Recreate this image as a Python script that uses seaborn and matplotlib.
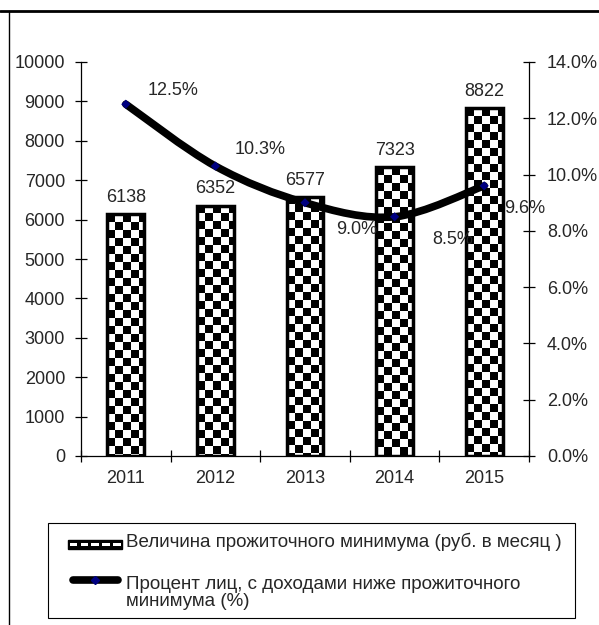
import numpy as np
import seaborn as sns
import matplotlib.pyplot as plt
from matplotlib.lines import Line2D
from matplotlib.patches import Rectangle, PathPatch
from matplotlib.path import Path
from matplotlib.legend_handler import HandlerBase
from matplotlib.ticker import FuncFormatter, MultipleLocator, FixedLocator

years = ['2011', '2012', '2013', '2014', '2015']
subsistence = [6138, 6352, 6577, 7323, 8822]
poor_share = [12.5, 10.3, 9.0, 8.5, 9.6]

bar_label_text = 'Величина прожиточного минимума (руб. в месяц )'
line_label_text = 'Процент лиц, с доходами ниже прожиточного\nминимума (%)'

# offsets (points) of the percentage labels relative to their points
pct_offsets = [(34, 10), (32, 12), (37, -19), (42, -16), (29, -16)]

sns.set_theme(style='white')
plt.rcParams['font.family'] = ['Liberation Sans', 'DejaVu Sans']
fs = 13

W, H = 599, 625
fig = plt.figure(figsize=(W / 100, H / 100), dpi=100)
ax = fig.add_axes([81 / W, 1 - 456 / H, (529 - 81) / W, (456 - 62) / H])
ax2 = ax.twinx()

# bars
sns.barplot(x=years, y=subsistence, ax=ax, color='white', edgecolor='black',
            linewidth=2.5, width=0.41, saturation=1)
ax.set_xlim(-0.5, 4.5)
ax.set_ylim(0, 10000)
ax2.set_ylim(0, 14)

# checkerboard fill clipped to each bar
cell = 8.0
for bar in ax.patches:
    bar.set_facecolor('none')
    bar.set_zorder(2)
    x0, w, h = bar.get_x(), bar.get_width(), bar.get_height()
    (px0, py0), (px1, py1) = ax.transData.transform([(x0, 0), (x0 + w, h)])
    ncols = int(np.ceil((px1 - px0) / cell))
    nrows = int(np.ceil((py1 - py0) / cell))
    board = np.indices((nrows, ncols)).sum(axis=0) % 2
    xe = x0 + ncols * cell / (px1 - px0) * w
    yb = h - nrows * cell / (py1 - py0) * h
    im = ax.imshow(board, cmap='gray', vmin=0, vmax=1, extent=(x0, xe, yb, h),
                   origin='upper', aspect='auto', interpolation='nearest', zorder=1.5)
    im.set_clip_path(bar)
ax.set_xlim(-0.5, 4.5)
ax.set_ylim(0, 10000)

ax.bar_label(ax.containers[0], labels=[str(v) for v in subsistence], padding=6, fontsize=fs)

# smoothed line (Catmull-Rom as cubic Bezier)
pts = np.column_stack([np.arange(len(poor_share)), poor_share]).astype(float)
ext = np.vstack([pts[0], pts, pts[-1]])
verts = [tuple(pts[0])]
codes = [Path.MOVETO]
for i in range(len(pts) - 1):
    p0, p1, p2, p3 = ext[i], ext[i + 1], ext[i + 2], ext[i + 3]
    c1 = p1 + (p2 - p0) / 6
    c2 = p2 - (p3 - p1) / 6
    verts += [tuple(c1), tuple(c2), tuple(p2)]
    codes += [Path.CURVE4] * 3
ax2.add_patch(PathPatch(Path(verts, codes), facecolor='none', edgecolor='black',
                        lw=5.5, capstyle='round', zorder=3))
sns.scatterplot(x=np.arange(len(poor_share)), y=poor_share, ax=ax2, marker='D',
                s=22, color='#000080', edgecolor='none', zorder=4)
ax2.set_ylim(0, 14)
ax2.set_xlim(-0.5, 4.5)

for i, v in enumerate(poor_share):
    ax2.annotate(f'{v:.1f}%', (i, v), xytext=pct_offsets[i], textcoords='offset points',
                 ha='center', va='center', fontsize=fs, zorder=5)

# axes styling
for a in (ax, ax2):
    for s in a.spines.values():
        s.set_visible(False)
    a.set_xlabel('')
    a.set_ylabel('')
ax.spines['left'].set_visible(True)
ax.spines['bottom'].set_visible(True)
ax2.spines['right'].set_visible(True)
for s in (ax.spines['left'], ax.spines['bottom'], ax2.spines['right']):
    s.set_color('black')
    s.set_linewidth(0.9)

ax.yaxis.set_major_locator(MultipleLocator(1000))
ax.tick_params(axis='y', which='major', direction='inout', length=8, width=0.9,
               color='black', labelsize=fs, pad=7.5, left=True)
ax.xaxis.set_major_locator(FixedLocator(np.arange(-0.5, 5, 1)))
ax.xaxis.set_minor_locator(FixedLocator(np.arange(5)))
ax.set_xticklabels([], minor=False)
ax.set_xticklabels(years, minor=True)
ax.tick_params(axis='x', which='major', direction='inout', length=8, width=0.9,
               color='black', bottom=True)
ax.tick_params(axis='x', which='minor', length=0, labelsize=fs, pad=10, bottom=True)

ax2.yaxis.set_major_locator(MultipleLocator(2))
ax2.yaxis.set_major_formatter(FuncFormatter(lambda v, p: f'{v:.1f}%'))
ax2.tick_params(axis='y', direction='inout', length=8, width=0.9, color='black',
                labelsize=fs, pad=9, right=True)


class CheckerHandler(HandlerBase):
    def create_artists(self, legend, orig, xd, yd, w, h, fontsize, trans):
        arts = [Rectangle((xd, yd), w, h, facecolor='black', edgecolor='black',
                          lw=1, transform=trans)]
        n = 5
        cw = w / n
        for i in range(n):
            arts.append(Rectangle((xd + i * cw + cw * 0.15, yd + h * 0.35), cw * 0.7, h * 0.3,
                                  facecolor='white', edgecolor='none', transform=trans))
        return arts


class RoundLineHandler(HandlerBase):
    # line sits next to the first text line, not the last one
    def create_artists(self, legend, orig, xd, yd, w, h, fontsize, trans):
        cap = 3.5
        ym = yd + h / 2 + 12.0
        line = Line2D([xd + cap, xd + w - cap], [ym, ym], color='black', lw=5.5,
                      solid_capstyle='round', transform=trans)
        mark = Line2D([xd + w / 2], [ym], marker='D', markersize=4, linestyle='none',
                      color='#000080', transform=trans)
        return [line, mark]


fs_leg = 13.5
bar_handle = Rectangle((0, 0), 1, 1)
line_handle = Line2D([], [])
leg = fig.legend([bar_handle, line_handle], [bar_label_text, line_label_text],
                 handler_map={Rectangle: CheckerHandler(), Line2D: RoundLineHandler()},
                 loc='upper left', bbox_to_anchor=(68 / W, 1 - 533 / H),
                 fontsize=fs_leg, frameon=False, handlelength=2.9, handleheight=0.4,
                 handletextpad=0.2, labelspacing=1.3, borderpad=0, borderaxespad=0)
for t in leg.get_texts():
    t.set_linespacing(1.0)

# legend frame, drawn separately so the padding matches
fig.add_artist(Rectangle((48 / W, 1 - 618 / H), (575 - 48) / W, (618 - 523) / H,
                         transform=fig.transFigure, facecolor='none',
                         edgecolor='black', lw=0.8))

# outer border lines
fig.add_artist(Line2D([0, 1], [1 - 11 / H] * 2, transform=fig.transFigure,
                      color='black', lw=2))
fig.add_artist(Line2D([9 / W] * 2, [0, 1 - 11 / H], transform=fig.transFigure,
                      color='black', lw=1))

fig.savefig('out.png', dpi=100)
